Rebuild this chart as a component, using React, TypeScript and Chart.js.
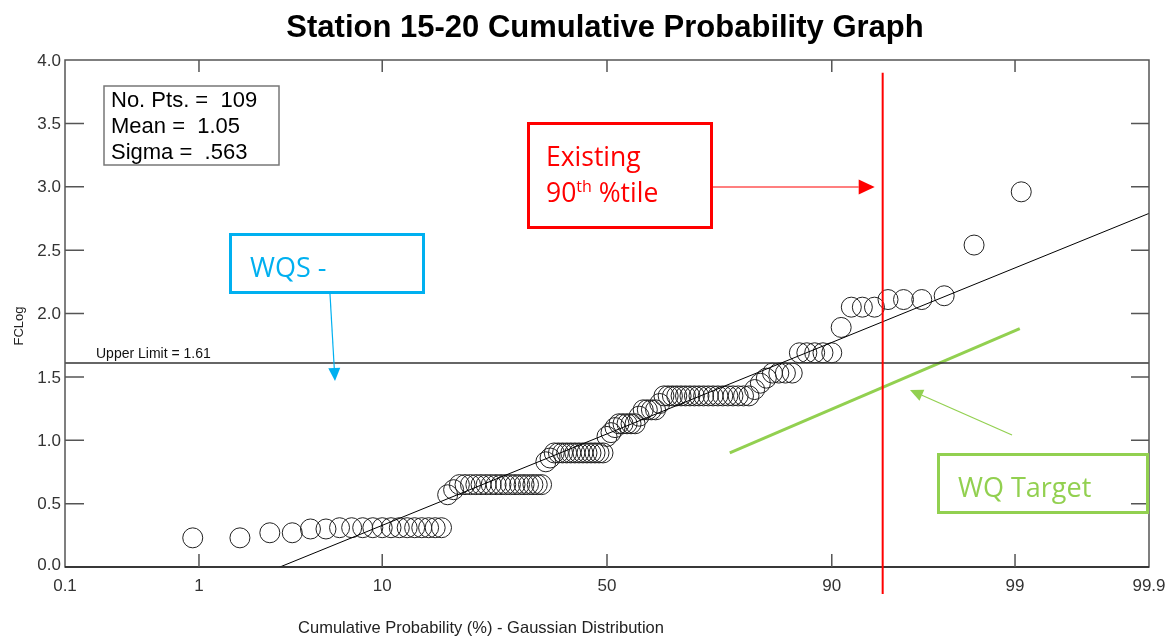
import React, { useEffect, useRef } from "react";
import { Chart, registerables } from "chart.js";

Chart.register(...registerables);

// ---------- data ----------
const probTicks = [0.1, 1, 10, 50, 90, 99, 99.9];
const probTickLabels = ["0.1", "1", "10", "50", "90", "99", "99.9"];
const yTicks = [0, 0.5, 1, 1.5, 2, 2.5, 3, 3.5, 4];
const yTickLabels = ["0.0", "0.5", "1.0", "1.5", "2.0", "2.5", "3.0", "3.5", "4.0"];

// sorted FC log values (109 points)
const fcLog = [
  0.23, 0.23, 0.27, 0.27, 0.30, 0.30,
  0.31, 0.31, 0.31, 0.31, 0.31, 0.31, 0.31, 0.31, 0.31, 0.31, 0.31, 0.31, 0.31,
  0.57, 0.61,
  0.65, 0.65, 0.65, 0.65, 0.65, 0.65, 0.65, 0.65, 0.65, 0.65, 0.65, 0.65, 0.65, 0.65, 0.65, 0.65, 0.65, 0.65,
  0.83, 0.86,
  0.90, 0.90, 0.90, 0.90, 0.90, 0.90, 0.90, 0.90, 0.90, 0.90, 0.90, 0.90, 0.90,
  1.03, 1.06, 1.10,
  1.13, 1.13, 1.13, 1.13, 1.13,
  1.19,
  1.24, 1.24, 1.24, 1.24,
  1.29,
  1.35, 1.35, 1.35, 1.35, 1.35, 1.35, 1.35, 1.35, 1.35, 1.35, 1.35, 1.35, 1.35, 1.35, 1.35, 1.35, 1.35, 1.35, 1.35,
  1.40, 1.45, 1.49,
  1.53, 1.53, 1.53, 1.53,
  1.69, 1.69, 1.69, 1.69, 1.69,
  1.89,
  2.05, 2.05, 2.05,
  2.11, 2.11, 2.11,
  2.14, 2.54, 2.96,
];

const statMean = 1.05;
const statSigma = 0.563;
const upperLimit = 1.61;
const existing90Prob = 94.2; // red vertical line (%)
const wqTargetProb = [75.8, 99.07];
const wqTargetY = [0.9, 1.88];

// ---------- helpers ----------
function invNorm(p: number): number {
  const a = [-3.969683028665376e1, 2.209460984245205e2, -2.759285104469687e2, 1.38357751867269e2, -3.066479806614716e1, 2.506628277459239];
  const b = [-5.447609879822406e1, 1.615858368580409e2, -1.556989798598866e2, 6.680131188771972e1, -1.328068155288572e1];
  const c = [-7.784894002430293e-3, -3.223964580411365e-1, -2.400758277161838, -2.549732539343734, 4.374664141464968, 2.938163982698783];
  const d = [7.784695709041462e-3, 3.224671290700398e-1, 2.445134137142996, 3.754408661907416];
  const pl = 0.02425;
  if (p < pl) {
    const q = Math.sqrt(-2 * Math.log(p));
    return (((((c[0] * q + c[1]) * q + c[2]) * q + c[3]) * q + c[4]) * q + c[5]) / ((((d[0] * q + d[1]) * q + d[2]) * q + d[3]) * q + 1);
  }
  if (p <= 1 - pl) {
    const q = p - 0.5;
    const r = q * q;
    return ((((((a[0] * r + a[1]) * r + a[2]) * r + a[3]) * r + a[4]) * r + a[5]) * q) / (((((b[0] * r + b[1]) * r + b[2]) * r + b[3]) * r + b[4]) * r + 1);
  }
  const q = Math.sqrt(-2 * Math.log(1 - p));
  return -(((((c[0] * q + c[1]) * q + c[2]) * q + c[3]) * q + c[4]) * q + c[5]) / ((((d[0] * q + d[1]) * q + d[2]) * q + d[3]) * q + 1);
}

const zMin = invNorm(probTicks[0] / 100);
const zMax = invNorm(probTicks[probTicks.length - 1] / 100);

const SANS = '"Liberation Sans", Arial, sans-serif';
const ANNO = '"Open Sans", "Noto Sans", sans-serif';

function arrow(ctx: CanvasRenderingContext2D, x1: number, y1: number, x2: number, y2: number, color: string, head: number, half: number) {
  const ang = Math.atan2(y2 - y1, x2 - x1);
  const bx = x2 - head * Math.cos(ang);
  const by = y2 - head * Math.sin(ang);
  ctx.save();
  ctx.strokeStyle = color;
  ctx.fillStyle = color;
  ctx.lineWidth = 1.2;
  ctx.beginPath();
  ctx.moveTo(x1, y1);
  ctx.lineTo(bx, by);
  ctx.stroke();
  ctx.beginPath();
  ctx.moveTo(x2, y2);
  ctx.lineTo(bx + half * Math.sin(ang), by - half * Math.cos(ang));
  ctx.lineTo(bx - half * Math.sin(ang), by + half * Math.cos(ang));
  ctx.closePath();
  ctx.fill();
  ctx.restore();
}

const overlay = {
  id: "overlay",
  afterDraw(chart: any) {
    const ctx: CanvasRenderingContext2D = chart.ctx;
    const xs = chart.scales.x;
    const ys = chart.scales.y;
    const A = chart.chartArea;
    ctx.save();

    // frame
    ctx.strokeStyle = "#555";
    ctx.lineWidth = 1.5;
    ctx.strokeRect(A.left, A.top, A.right - A.left, A.bottom - A.top);
    ctx.strokeStyle = "#222";
    ctx.beginPath();
    ctx.moveTo(A.left, A.bottom);
    ctx.lineTo(A.right, A.bottom);
    ctx.stroke();

    // ticks
    ctx.strokeStyle = "#555";
    ctx.lineWidth = 1.5;
    probTicks.forEach((p, i) => {
      if (i === 0 || i === probTicks.length - 1) return;
      const x = xs.getPixelForValue(invNorm(p / 100));
      ctx.beginPath();
      ctx.moveTo(x, A.top);
      ctx.lineTo(x, A.top + 12);
      ctx.moveTo(x, A.bottom);
      ctx.lineTo(x, A.bottom - 13);
      ctx.stroke();
    });
    yTicks.forEach((v, i) => {
      if (i === 0 || i === yTicks.length - 1) return;
      const y = ys.getPixelForValue(v);
      ctx.beginPath();
      ctx.moveTo(A.left, y);
      ctx.lineTo(A.left + 19, y);
      ctx.moveTo(A.right, y);
      ctx.lineTo(A.right - 18, y);
      ctx.stroke();
    });

    // tick labels
    ctx.fillStyle = "#333";
    ctx.font = `17px ${SANS}`;
    ctx.textAlign = "right";
    ctx.textBaseline = "middle";
    yTicks.forEach((v, i) => {
      ctx.fillText(yTickLabels[i], A.left - 4, ys.getPixelForValue(v) + (i === 0 ? -2 : 1));
    });
    ctx.textAlign = "center";
    ctx.textBaseline = "alphabetic";
    probTicks.forEach((p, i) => {
      ctx.fillText(probTickLabels[i], xs.getPixelForValue(invNorm(p / 100)), A.bottom + 24);
    });

    // axis titles
    ctx.fillStyle = "#222";
    ctx.font = `16.5px ${SANS}`;
    ctx.fillText("Cumulative Probability (%) - Gaussian Distribution", 481, 633);
    ctx.save();
    ctx.translate(23, 326);
    ctx.rotate(-Math.PI / 2);
    ctx.font = `13px ${SANS}`;
    ctx.fillText("FCLog", 0, 0);
    ctx.restore();

    // title
    ctx.fillStyle = "#000";
    ctx.font = `bold 31px ${SANS}`;
    ctx.fillText("Station 15-20 Cumulative Probability Graph", 605, 37);

    // upper limit label
    ctx.textAlign = "left";
    ctx.font = `14px ${SANS}`;
    ctx.fillStyle = "#111";
    ctx.fillText(`Upper Limit = ${upperLimit}`, 96, ys.getPixelForValue(upperLimit) - 5);

    // stats box
    ctx.fillStyle = "#fff";
    ctx.fillRect(104, 86, 175, 79);
    ctx.strokeStyle = "#777";
    ctx.lineWidth = 1.5;
    ctx.strokeRect(104, 86, 175, 79);
    ctx.fillStyle = "#000";
    ctx.font = `22px ${SANS}`;
    ctx.fillText(`No. Pts. =  ${fcLog.length}`, 111, 107);
    ctx.fillText(`Mean =  ${statMean.toFixed(2)}`, 111, 133);
    ctx.fillText(`Sigma =  ${String(statSigma).replace(/^0/, "")}`, 111, 159);

    // red vertical line (existing 90th percentile)
    const rx = xs.getPixelForValue(invNorm(existing90Prob / 100));
    ctx.strokeStyle = "#FF0000";
    ctx.lineWidth = 2;
    ctx.beginPath();
    ctx.moveTo(rx, ys.getPixelForValue(3.9));
    ctx.lineTo(rx, A.bottom + 27);
    ctx.stroke();

    // red box
    ctx.lineWidth = 3;
    ctx.strokeRect(528.5, 123.5, 183, 104);
    ctx.fillStyle = "#FF0000";
    ctx.font = `26.5px ${ANNO}`;
    ctx.fillText("Existing", 546, 166);
    ctx.fillText("90", 546, 202);
    const w90 = ctx.measureText("90").width;
    ctx.font = `16px ${ANNO}`;
    ctx.fillText("th", 546 + w90, 192);
    const wth = ctx.measureText("th").width;
    ctx.font = `26.5px ${ANNO}`;
    ctx.fillText(" %tile", 546 + w90 + wth, 202);
    arrow(ctx, 713, 187, rx - 8, 187, "#FF0000", 16, 7.5);

    // blue box WQS
    ctx.strokeStyle = "#00B0F0";
    ctx.lineWidth = 3;
    ctx.strokeRect(230.5, 234.5, 193, 58);
    ctx.fillStyle = "#00B0F0";
    ctx.font = `27px ${ANNO}`;
    ctx.fillText("WQS -", 250, 277);
    arrow(ctx, 330, 294, 335, 381, "#00B0F0", 13, 6);

    // green box WQ Target
    ctx.strokeStyle = "#92D050";
    ctx.lineWidth = 3;
    ctx.strokeRect(938.5, 454.5, 209, 58);
    ctx.fillStyle = "#92D050";
    ctx.fillText("WQ Target", 958, 497);
    arrow(ctx, 1012, 435, 910, 390, "#92D050", 13, 6);

    ctx.restore();
  },
};

export default function App() {
  const ref = useRef<HTMLCanvasElement>(null);
  useEffect(() => {
    const n = fcLog.length;
    const points = fcLog.map((v, i) => ({ x: invNorm((i + 1) / (n + 1)), y: v }));
    const chart = new Chart(ref.current as HTMLCanvasElement, {
      type: "scatter",
      data: {
        datasets: [
          {
            type: "line" as any,
            data: [
              { x: zMin, y: statMean + statSigma * zMin },
              { x: zMax, y: statMean + statSigma * zMax },
            ],
            borderColor: "#000",
            borderWidth: 1,
            pointRadius: 0,
            fill: false,
          },
          {
            type: "line" as any,
            data: [
              { x: zMin, y: upperLimit },
              { x: zMax, y: upperLimit },
            ],
            borderColor: "#333",
            borderWidth: 1.5,
            pointRadius: 0,
            fill: false,
          },
          {
            type: "line" as any,
            data: wqTargetProb.map((p, i) => ({ x: invNorm(p / 100), y: wqTargetY[i] })),
            borderColor: "#92D050",
            borderWidth: 3,
            pointRadius: 0,
            fill: false,
          },
          {
            data: points,
            pointRadius: 10,
            pointBorderColor: "#222",
            pointBackgroundColor: "rgba(0,0,0,0)",
            pointBorderWidth: 1,
            showLine: false,
          } as any,
        ],
      },
      options: {
        animation: false,
        responsive: true,
        maintainAspectRatio: false,
        events: [],
        layout: { padding: { left: 65, top: 60, right: 19, bottom: 70 } },
        plugins: {
          legend: { display: false },
          tooltip: { enabled: false },
          title: { display: false },
        },
        scales: {
          x: { type: "linear", min: zMin, max: zMax, display: false },
          y: { type: "linear", min: 0, max: 4, display: false },
        },
      },
      plugins: [overlay],
    });
    return () => chart.destroy();
  }, []);
  return (
    <div style={{ position: "fixed", left: 0, top: 0, width: 1168, height: 637, background: "#fff" }}>
      <canvas ref={ref} />
    </div>
  );
}
